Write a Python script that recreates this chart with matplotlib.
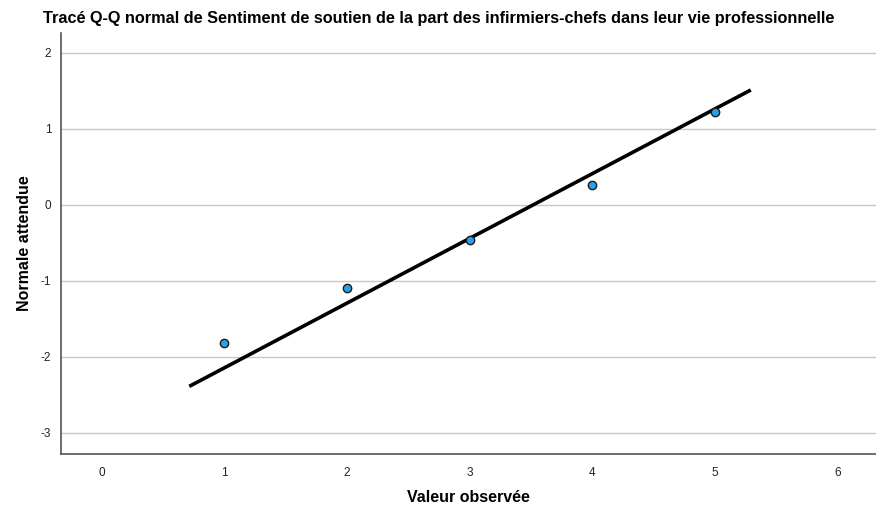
import matplotlib
matplotlib.use("Agg")
import matplotlib.pyplot as plt

plt.rcParams['font.family'] = ['Liberation Sans', 'DejaVu Sans']
plt.rcParams['axes.unicode_minus'] = False

# observed values and expected normal quantiles
observed = [1, 2, 3, 4, 5]
expected = [-1.82, -1.09, -0.46, 0.26, 1.22]

# reference line endpoints (observed scale)
line_x = [0.715, 5.29]
line_y = [-2.39, 1.51]

x_ticks = [0, 1, 2, 3, 4, 5, 6]
y_ticks = [-3, -2, -1, 0, 1, 2]

title = "Tracé Q-Q normal de Sentiment de soutien de la part des infirmiers-chefs dans leur vie professionnelle"

fig = plt.figure(figsize=(8.76, 5.08), dpi=100)
ax = fig.add_axes([61 / 876, 1 - 454 / 508, 815 / 876, 421 / 508])

ax.set_xlim(-0.33, 6.31)
ax.set_ylim(-3.28, 2.26)

ax.yaxis.grid(True, color='#c8c8c8', linewidth=1)
ax.set_axisbelow(True)

ax.plot(line_x, line_y, color='black', linewidth=2.6, solid_capstyle='butt', zorder=2)
ax.scatter(observed, expected, s=36, color='#2a9df4', edgecolor='#1a1a1a',
           linewidth=1.0, zorder=3)

ax.set_xticks(x_ticks)
ax.set_yticks(y_ticks)
ax.tick_params(length=0, labelsize=8.5, colors='#222222')
ax.tick_params(axis='x', pad=9)
ax.tick_params(axis='y', pad=7)

for side in ['top', 'right']:
    ax.spines[side].set_visible(False)
for side in ['left', 'bottom']:
    ax.spines[side].set_color('#555555')
    ax.spines[side].set_linewidth(1.2)

ax.set_xlabel("Valeur observée", fontsize=11.5, fontweight='bold', labelpad=8)
ax.set_ylabel("Normale attendue", fontsize=11.5, fontweight='bold', labelpad=6)

fig.text(439 / 876, 1 - 19 / 508, title, ha='center', va='center',
         fontsize=11.7, fontweight='bold')

fig.savefig("out.png", dpi=100)
